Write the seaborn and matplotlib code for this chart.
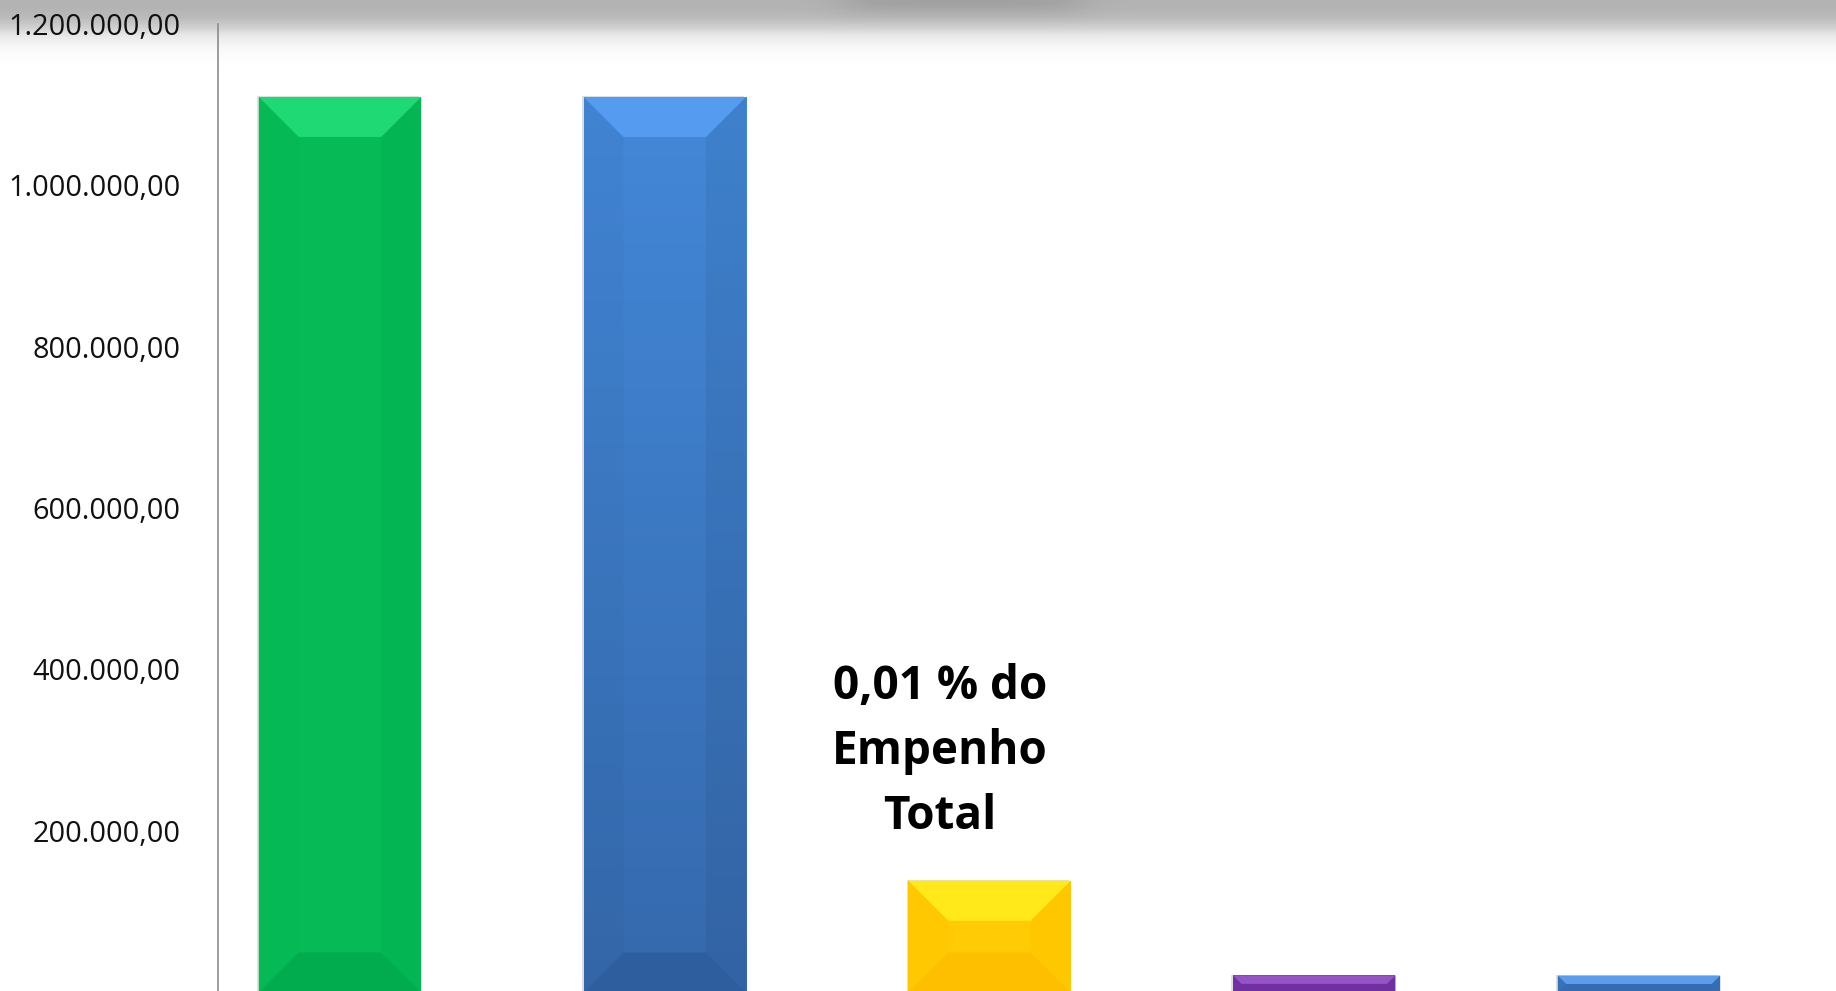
import numpy as np
import matplotlib
matplotlib.use("Agg")
import matplotlib.pyplot as plt
import seaborn as sns
from matplotlib.patches import Polygon
import matplotlib.patheffects as pe

# ---------------- data ----------------
categories = ["Barra 1", "Barra 2", "Barra 3", "Barra 4", "Barra 5"]
values = [1109000, 1109000, 138500, 21200, 21000]
tick_values = [200000, 400000, 600000, 800000, 1000000, 1200000]
annotation = "0,01 % do\nEmpenho\nTotal"

face_colors = ["#06BB55", "#4080D0", "#FFCB05", "#7431A5", "#3A72BA"]
top_colors = ["#1FD974", "#559CF0", "#FFE91A", "#9553C5", "#5B9DEA"]
bottom_colors = ["#00AC4E", "#2E5E9D", "#FDBF00", "#7030A0", "#356BB0"]
left_colors = ["#05B954", None, "#FFC800", "#7232A3", "#3A70B8"]
right_colors = ["#04B653", None, "#FFC700", "#7030A0", "#356CB2"]

def fmt_br(v):
    s = f"{v:,.2f}"
    return s.replace(",", "X").replace(".", ",").replace("X", ".")

W, H = 1836, 991
sns.set_style("white")
plt.rcParams["font.family"] = ["Open Sans", "DejaVu Sans"]

fig = plt.figure(figsize=(W / 100, H / 100), dpi=100, facecolor="white")

# background gradient (top shadow)
bg = fig.add_axes([0, 0, 1, 1], zorder=-10)
bg.axis("off")
yy = np.arange(H, dtype=float)[:, None]
xx = np.arange(W, dtype=float)[None, :]
ctrl_y = [0, 8, 17, 27, 34, 44, 55, 70]
ctrl_v = [0.70, 0.705, 0.73, 0.815, 0.90, 0.96, 0.988, 1.0]
base = np.interp(yy, ctrl_y, ctrl_v) * np.ones_like(xx)
sig = lambda t: 1.0 / (1.0 + np.exp(-t))
blob = 0.07 * np.exp(-(yy / 15.0) ** 2) * sig((xx - 845) / 14.0) * sig((1080 - xx) / 14.0)
img = np.clip(base - blob, 0, 1)
bg.imshow(img, cmap="gray", vmin=0, vmax=1, extent=[0, 1, 0, 1], aspect="auto",
          interpolation="bilinear", origin="upper")
bg.set_xlim(0, 1)
bg.set_ylim(0, 1)

# main axes
ax_left = 218 / W
ax_bottom = (H - 992.5) / H
ax_h = (992.5 - 23.5) / H
ax = fig.add_axes([ax_left, ax_bottom, 1 - ax_left, ax_h])
ax.set_facecolor("none")

sns.barplot(x=categories, y=values, hue=categories, palette=face_colors,
            legend=False, width=0.5, saturation=1, linewidth=0, ax=ax)
bars = list(ax.patches)

x_lo = (218 - 340) / 324.75
x_hi = (1836 - 340) / 324.75
ax.set_xlim(x_lo, x_hi)
ax.set_ylim(0, 1200000)

p0 = ax.transData.transform((0, 0))
p1 = ax.transData.transform((1, 1))
sx = p1[0] - p0[0]
sy = p1[1] - p0[1]

for i, patch in enumerate(bars):
    x0 = patch.get_x()
    w = patch.get_width()
    h = patch.get_height()
    patch.set_path_effects([pe.SimplePatchShadow(offset=(-1.3, 0.6), shadow_rgbFace="black", alpha=0.12),
                            pe.Normal()])
    b_px = min(40.0, h * sy / 2.0, w * sx / 2.0)
    bx = b_px / sx
    by = b_px / sy
    z = patch.get_zorder() + 0.2
    if i == 1:
        n = 256
        c_top = np.array(matplotlib.colors.to_rgb("#4388D8"))
        c_bot = np.array(matplotlib.colors.to_rgb("#3569AD"))
        t = np.linspace(0, 1, n)[:, None]
        grad = (c_top * (1 - t) + c_bot * t)[:, None, :]
        im = ax.imshow(grad, extent=[x0, x0 + w, 0, h], aspect="auto",
                       interpolation="bilinear", origin="upper", zorder=patch.get_zorder() + 0.1)
        im.set_clip_path(patch)
        left_poly = Polygon([(x0, 0), (x0 + bx, by), (x0 + bx, h - by), (x0, h)],
                            closed=True, facecolor="black", alpha=0.025, lw=0, zorder=z)
        right_poly = Polygon([(x0 + w, 0), (x0 + w - bx, by), (x0 + w - bx, h - by), (x0 + w, h)],
                             closed=True, facecolor="black", alpha=0.05, lw=0, zorder=z)
    else:
        left_poly = Polygon([(x0, 0), (x0 + bx, by), (x0 + bx, h - by), (x0, h)],
                            closed=True, facecolor=left_colors[i], lw=0, zorder=z)
        right_poly = Polygon([(x0 + w, 0), (x0 + w - bx, by), (x0 + w - bx, h - by), (x0 + w, h)],
                             closed=True, facecolor=right_colors[i], lw=0, zorder=z)
    top_poly = Polygon([(x0, h), (x0 + w, h), (x0 + w - bx, h - by), (x0 + bx, h - by)],
                       closed=True, facecolor=top_colors[i], lw=0, zorder=z + 0.1)
    bot_poly = Polygon([(x0, 0), (x0 + w, 0), (x0 + w - bx, by), (x0 + bx, by)],
                       closed=True, facecolor=bottom_colors[i], lw=0, zorder=z + 0.1)
    for p in (left_poly, right_poly, top_poly, bot_poly):
        ax.add_patch(p)

ax.set_xlim(x_lo, x_hi)
ax.set_ylim(0, 1200000)

# axes styling
for s in ("top", "right", "bottom"):
    ax.spines[s].set_visible(False)
ax.spines["left"].set_color("#8C8C8C")
ax.spines["left"].set_linewidth(1.2)
ax.set_xticks([])
ax.set_yticks(tick_values)
ax.set_yticklabels([fmt_br(v) for v in tick_values])
ax.tick_params(axis="y", length=0, pad=27, labelsize=20.8, labelcolor="#111111")
ax.set_xlabel("")
ax.set_ylabel("")

ax.text((940 - 340) / 324.75, 202500, annotation, ha="center", va="baseline",
        multialignment="center", fontsize=33, fontweight="bold", color="black",
        linespacing=1.5, zorder=10)

fig.savefig("out.png", dpi=100, facecolor="white")
